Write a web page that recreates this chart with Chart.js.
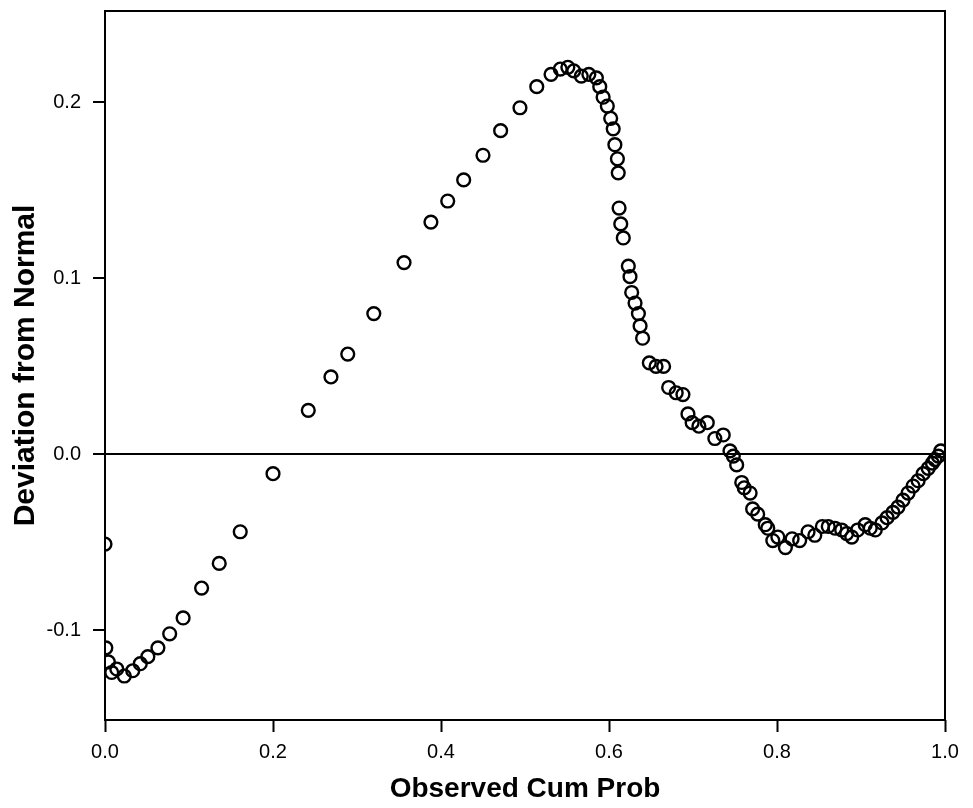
<!DOCTYPE html>
<html>
<head>
<meta charset="utf-8">
<script src="https://cdn.jsdelivr.net/npm/chart.js@4.4.0/dist/chart.umd.min.js"></script>
<style>
  html, body { margin: 0; padding: 0; background: #ffffff; }
  #wrap { width: 973px; height: 808px; position: relative; }
</style>
</head>
<body>
<div id="wrap"><canvas id="c" width="973" height="808"></canvas></div>
<script>
// Observed cumulative probability (x) and deviation from normal (y)
const cumProb = [
  0.000, 0.001, 0.004, 0.008, 0.014, 0.023, 0.033, 0.042, 0.051, 0.063,
  0.077, 0.093, 0.115, 0.136, 0.161, 0.200, 0.242, 0.269, 0.289, 0.320,
  0.356, 0.388, 0.408, 0.427, 0.450, 0.471, 0.494, 0.514, 0.531, 0.542,
  0.551, 0.558, 0.567, 0.576, 0.585, 0.589, 0.593, 0.598, 0.602, 0.605,
  0.607, 0.610, 0.611, 0.612, 0.614, 0.617, 0.623, 0.625, 0.627, 0.631,
  0.635, 0.637, 0.640, 0.648, 0.656, 0.665, 0.671, 0.680, 0.688, 0.694,
  0.699, 0.707, 0.717, 0.726, 0.736, 0.744, 0.748, 0.752, 0.758, 0.761,
  0.768, 0.771, 0.777, 0.786, 0.789, 0.795, 0.801, 0.810, 0.818, 0.827,
  0.837, 0.845, 0.854, 0.861, 0.869, 0.877, 0.883, 0.889, 0.896, 0.905,
  0.911, 0.917, 0.925, 0.931, 0.938, 0.944, 0.950, 0.956, 0.962, 0.968,
  0.974, 0.980, 0.985, 0.988, 0.992, 0.995
];
const deviation = [
  -0.051, -0.110, -0.118, -0.124, -0.122, -0.126, -0.123, -0.119, -0.115, -0.110,
  -0.102, -0.093, -0.076, -0.062, -0.044, -0.011, 0.025, 0.044, 0.057, 0.080,
  0.109, 0.132, 0.144, 0.156, 0.170, 0.184, 0.197, 0.209, 0.216, 0.219,
  0.220, 0.218, 0.215, 0.216, 0.214, 0.209, 0.203, 0.198, 0.191, 0.185,
  0.176, 0.168, 0.160, 0.140, 0.131, 0.123, 0.107, 0.101, 0.092, 0.086,
  0.080, 0.073, 0.066, 0.052, 0.050, 0.050, 0.038, 0.035, 0.034, 0.023,
  0.018, 0.016, 0.018, 0.009, 0.011, 0.002, -0.001, -0.006, -0.016, -0.019,
  -0.022, -0.031, -0.034, -0.040, -0.042, -0.049, -0.047, -0.053, -0.048, -0.049,
  -0.044, -0.046, -0.041, -0.041, -0.042, -0.043, -0.045, -0.047, -0.043, -0.040,
  -0.042, -0.043, -0.039, -0.036, -0.033, -0.030, -0.026, -0.022, -0.018, -0.015,
  -0.011, -0.008, -0.005, -0.003, -0.001, 0.002
];
const xTicks = [0.0, 0.2, 0.4, 0.6, 0.8, 1.0];
const yTicks = [-0.1, 0.0, 0.1, 0.2];
const xTitle = 'Observed Cum Prob';
const yTitle = 'Deviation from Normal';

const points = cumProb.map((x, i) => ({ x: x, y: deviation[i] }));

const frame = {
  id: 'frame',
  afterDatasetsDraw(chart) {
    const a = chart.chartArea, ctx = chart.ctx;
    ctx.save();
    ctx.strokeStyle = '#000';
    ctx.lineWidth = 2;
    ctx.strokeRect(a.left, a.top, a.right - a.left, a.bottom - a.top);
    ctx.restore();
  }
};

const FONT = "'Liberation Sans', Arial, Helvetica, sans-serif";

new Chart(document.getElementById('c'), {
  type: 'scatter',
  data: {
    datasets: [{
      data: points,
      pointStyle: 'circle',
      pointRadius: 6.4,
      pointHoverRadius: 6.4,
      pointBorderWidth: 2.4,
      borderColor: '#000',
      backgroundColor: 'rgba(0,0,0,0)',
      clip: 0
    }]
  },
  plugins: [frame],
  options: {
    responsive: false,
    animation: false,
    events: [],
    layout: { padding: { top: 11, right: 28, left: 0, bottom: 0 } },
    plugins: { legend: { display: false }, tooltip: { enabled: false } },
    scales: {
      x: {
        type: 'linear',
        min: 0, max: 1,
        afterBuildTicks: s => { s.ticks = xTicks.map(v => ({ value: v })); },
        afterFit: s => { s.height = 88; s.paddingLeft = 0; s.paddingRight = 0; },
        border: { display: false },
        grid: {
          drawOnChartArea: false,
          drawTicks: true,
          tickLength: 12,
          tickWidth: 2,
          tickColor: '#000'
        },
        ticks: {
          color: '#000',
          padding: 8,
          font: { family: FONT, size: 20 },
          maxRotation: 0,
          callback: v => Number(v).toFixed(1)
        },
        title: {
          display: true,
          text: xTitle,
          color: '#000',
          font: { family: FONT, size: 28, weight: 'bold' },
          padding: { top: 0, bottom: 2 }
        }
      },
      y: {
        type: 'linear',
        min: -0.151, max: 0.252,
        afterBuildTicks: s => { s.ticks = yTicks.map(v => ({ value: v })); },
        afterFit: s => { s.width = 105; s.paddingTop = 0; s.paddingBottom = 0; },
        border: { display: false },
        grid: {
          drawOnChartArea: true,
          drawTicks: true,
          tickLength: 12,
          tickWidth: 2,
          lineWidth: 2,
          tickColor: '#000',
          color: ctx => (ctx.tick && Math.abs(ctx.tick.value) < 1e-9) ? '#000' : 'rgba(0,0,0,0)'
        },
        ticks: {
          color: '#000',
          padding: 12,
          font: { family: FONT, size: 20 },
          callback: v => Number(v).toFixed(1)
        },
        title: {
          display: true,
          text: yTitle,
          color: '#000',
          font: { family: FONT, size: 30, weight: 'bold' },
          padding: { top: 8, bottom: 0 }
        }
      }
    }
  }
});
</script>
</body>
</html>
